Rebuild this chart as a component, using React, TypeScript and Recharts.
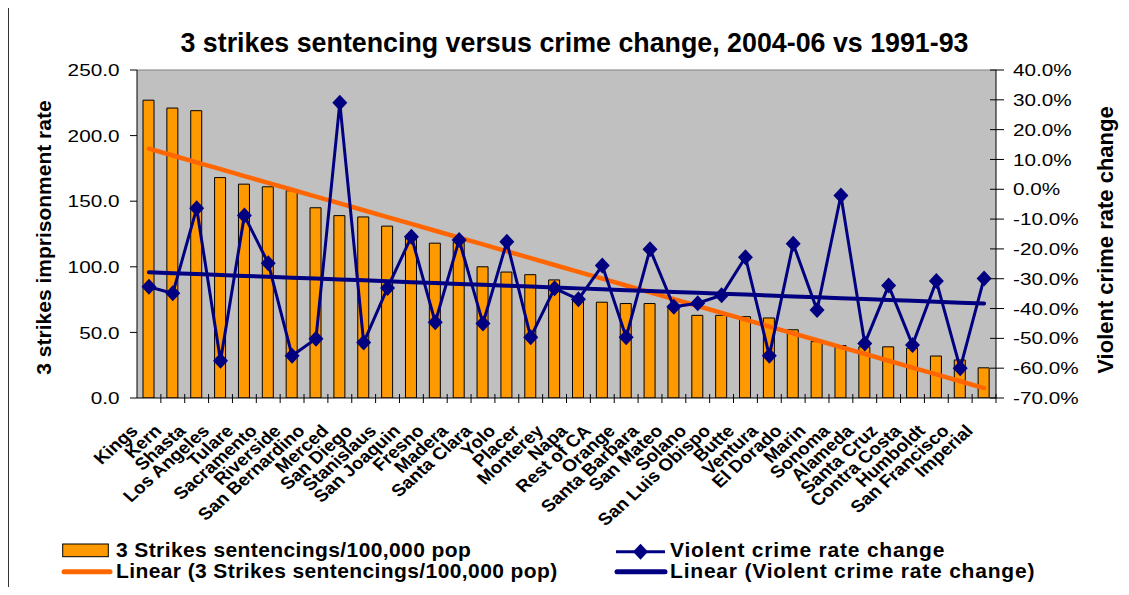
import React from 'react';
import {Bar, CartesianGrid, ComposedChart, Line, ReferenceLine, XAxis, YAxis} from 'recharts';

const counties = [
    'Kings', 'Kern', 'Shasta', 'Los Angeles', 'Tulare', 'Sacramento', 'Riverside', 'San Bernardino',
    'Merced', 'San Diego', 'Stanislaus', 'San Joaquin', 'Fresno', 'Madera', 'Santa Clara', 'Yolo',
    'Placer', 'Monterey', 'Napa', 'Rest of CA', 'Orange', 'Santa Barbara', 'San Mateo', 'Solano',
    'San Luis Obispo', 'Butte', 'Ventura', 'El Dorado', 'Marin', 'Sonoma', 'Alameda', 'Santa Cruz',
    'Contra Costa', 'Humboldt', 'San Francisco', 'Imperial',
];

// 3 strikes sentencings per 100,000 pop (left axis)
const strikesRate = [
    227, 221, 219, 168, 163, 161, 158, 145, 139, 138, 131, 123, 118, 119, 100, 96, 94, 90,
    75, 73, 72, 72, 70, 63, 63, 62, 61, 52, 43, 40, 39, 39, 38, 32, 29, 23,
];

// violent crime rate change, percent (right axis)
const crimeChange = [
    -32.7, -34.9, -6.4, -57.5, -8.8, -24.8, -55.8, -50.1, 29.0, -51.4, -33.1, -15.9, -44.6, -17.0,
    -45.0, -17.6, -49.6, -33.2, -36.9, -25.6, -49.6, -20.1, -39.4, -38.2, -35.5, -22.8, -55.8,
    -18.3, -40.5, -2.1, -51.7, -32.3, -52.2, -30.8, -60.0, -29.9,
];

const leftTicks = [0, 50, 100, 150, 200, 250];
const rightTicks = [-70, -60, -50, -40, -30, -20, -10, 0, 10, 20, 30, 40];

const title = '3 strikes sentencing versus crime change, 2004-06 vs 1991-93';
const leftTitle = '3 strikes imprisonment rate';
const rightTitle = 'Violent crime rate change';
const barName = '3 Strikes sentencings/100,000 pop';
const lineName = 'Violent crime rate change';

// least squares fit, same as the spreadsheet's linear trendline
const linearTrend = (ys: number[]): number[] => {
    const n = ys.length;
    const xs = ys.map((_, i) => i + 1);
    const mx = xs.reduce((a, b) => a + b, 0) / n;
    const my = ys.reduce((a, b) => a + b, 0) / n;
    let sxy = 0;
    let sxx = 0;
    xs.forEach((x, i) => {
        sxy += (x - mx) * (ys[i] - my);
        sxx += (x - mx) * (x - mx);
    });
    const slope = sxy / sxx;
    return xs.map((x) => my + slope * (x - mx));
};

const rateTrend = linearTrend(strikesRate);
const changeTrend = linearTrend(crimeChange);

const data = counties.map((county, i) => ({
    county,
    rate: strikesRate[i],
    change: crimeChange[i],
    rateTrend: rateTrend[i],
    changeTrend: changeTrend[i],
}));

const W = 1121;
const H = 579;
const LEFT_W = 129;
const RIGHT_W = 133;
const X_H = 189;
const BAND = (W - LEFT_W - RIGHT_W) / counties.length;
const FONT = '"Liberation Sans", Arial, sans-serif';

const CountyTick = (props: any) => {
    const {x, y, payload} = props;
    return (
        <g>
            <line x1={x + BAND / 2} x2={x + BAND / 2} y1={y - 4} y2={y + 5} stroke="#000" />
            <text
                transform={`translate(${x - 10},${y + 34}) scale(1.12,1) rotate(-45)`}
                textAnchor="end"
                fontSize={17}
                fontWeight="bold"
                fill="#000">
                {payload.value}
            </text>
        </g>
    );
};

const LeftTick = (props: any) => {
    const {x, y, payload} = props;
    return (
        <g>
            <line x1={x - 7} x2={x} y1={y} y2={y} stroke="#000" />
            <text
                transform={`translate(${x - 17.5},${y}) scale(1.22,1)`}
                textAnchor="end"
                dy="0.36em"
                fontSize={17}
                fill="#000">
                {payload.value.toFixed(1)}
            </text>
        </g>
    );
};

const RightTick = (props: any) => {
    const {x, y, payload} = props;
    return (
        <g>
            <line x1={x - 6} x2={x + 8} y1={y} y2={y} stroke="#000" />
            <text
                transform={`translate(${x + 17},${y}) scale(1.22,1)`}
                textAnchor="start"
                dy="0.36em"
                fontSize={17}
                fill="#000">
                {`${payload.value.toFixed(1)}%`}
            </text>
        </g>
    );
};

const Diamond = (props: any) => {
    const {cx, cy} = props;
    if (cx == null || cy == null) return null;
    return <path d={`M${cx},${cy - 8}L${cx + 7.5},${cy}L${cx},${cy + 8}L${cx - 7.5},${cy}Z`} fill="#000080" />;
};

const Overlay = () => (
    <svg
        width={W}
        height={H}
        style={{position: 'absolute', left: 0, top: 0, pointerEvents: 'none', fontFamily: FONT}}>
        <text x={566.5} y={44} textAnchor="middle" fontSize={26.8} fontWeight="bold">
            {title}
        </text>
        <text transform="translate(35.5,229.5) rotate(-90)" textAnchor="middle" dy="0.35em" fontSize={21} fontWeight="bold">
            {leftTitle}
        </text>
        <text transform="translate(1097,232) rotate(-90)" textAnchor="middle" dy="0.35em" fontSize={22} fontWeight="bold">
            {rightTitle}
        </text>

        {/* legend */}
        <rect x={54.7} y={536} width={45.6} height={12.7} fill="#FF9900" stroke="#000" />
        <text x={108} y={548.7} fontSize={21} fontWeight="bold" letterSpacing={0.4}>{barName}</text>
        <line x1={56} x2={102} y1={563.7} y2={563.7} stroke="#FF6600" strokeWidth={5} strokeLinecap="round" />
        <text x={108} y={570.3} fontSize={21} fontWeight="bold" letterSpacing={0.4}>{`Linear (${barName})`}</text>

        <line x1={608} x2={657} y1={543.7} y2={543.7} stroke="#000080" strokeWidth={3} />
        <Diamond cx={632.5} cy={543.7} />
        <text x={662} y={548.7} fontSize={21} fontWeight="bold" letterSpacing={0.8}>{lineName}</text>
        <line x1={609} x2={657} y1={563.7} y2={563.7} stroke="#000080" strokeWidth={5} strokeLinecap="round" />
        <text x={662} y={570.3} fontSize={21} fontWeight="bold" letterSpacing={0.8}>{`Linear (${lineName})`}</text>
    </svg>
);

export default function App() {
    return (
        <div style={{position: 'relative', width: W, height: H, fontFamily: FONT}}>
            <div
                style={{
                    position: 'absolute',
                    left: -1,
                    top: -2,
                    width: W,
                    height: H,
                    borderLeft: '2px solid #333',
                    borderTop: '2px solid #333',
                }}
            />
            <ComposedChart
                width={W}
                height={H}
                data={data}
                margin={{top: 62, right: 0, bottom: 0, left: 0}}
                style={{position: 'absolute', left: 0, top: 0, fontFamily: FONT}}>
                <CartesianGrid yAxisId="left" horizontal={false} vertical={false} fill="#C0C0C0" stroke="none" />
                <XAxis
                    dataKey="county"
                    interval={0}
                    height={X_H}
                    tickSize={0}
                    tickMargin={0}
                    tickLine={false}
                    axisLine={{stroke: '#000'}}
                    tick={<CountyTick />}
                />
                <YAxis
                    yAxisId="left"
                    domain={[0, 250]}
                    ticks={leftTicks}
                    interval={0}
                    width={LEFT_W}
                    tickSize={0}
                    tickMargin={0}
                    tickLine={false}
                    axisLine={{stroke: '#000'}}
                    tick={<LeftTick />}
                    allowDataOverflow
                />
                <YAxis
                    yAxisId="right"
                    orientation="right"
                    domain={[-70, 40]}
                    ticks={rightTicks}
                    interval={0}
                    width={RIGHT_W}
                    tickSize={0}
                    tickMargin={0}
                    tickLine={false}
                    axisLine={{stroke: '#000'}}
                    tick={<RightTick />}
                    allowDataOverflow
                />
                <ReferenceLine yAxisId="left" y={250} stroke="#808080" />
                <Bar
                    yAxisId="left"
                    dataKey="rate"
                    name={barName}
                    fill="#FF9900"
                    stroke="#000"
                    strokeWidth={1}
                    barSize={11}
                    isAnimationActive={false}
                />
                <Line
                    yAxisId="left"
                    dataKey="rateTrend"
                    stroke="#FF6600"
                    strokeWidth={4.5}
                    strokeLinecap="round"
                    dot={false}
                    activeDot={false}
                    isAnimationActive={false}
                />
                <Line
                    yAxisId="right"
                    dataKey="change"
                    name={lineName}
                    stroke="#000080"
                    strokeWidth={3}
                    dot={<Diamond />}
                    activeDot={false}
                    isAnimationActive={false}
                />
                <Line
                    yAxisId="right"
                    dataKey="changeTrend"
                    stroke="#000080"
                    strokeWidth={4}
                    strokeLinecap="round"
                    dot={false}
                    activeDot={false}
                    isAnimationActive={false}
                />
            </ComposedChart>
            <Overlay />
        </div>
    );
}
